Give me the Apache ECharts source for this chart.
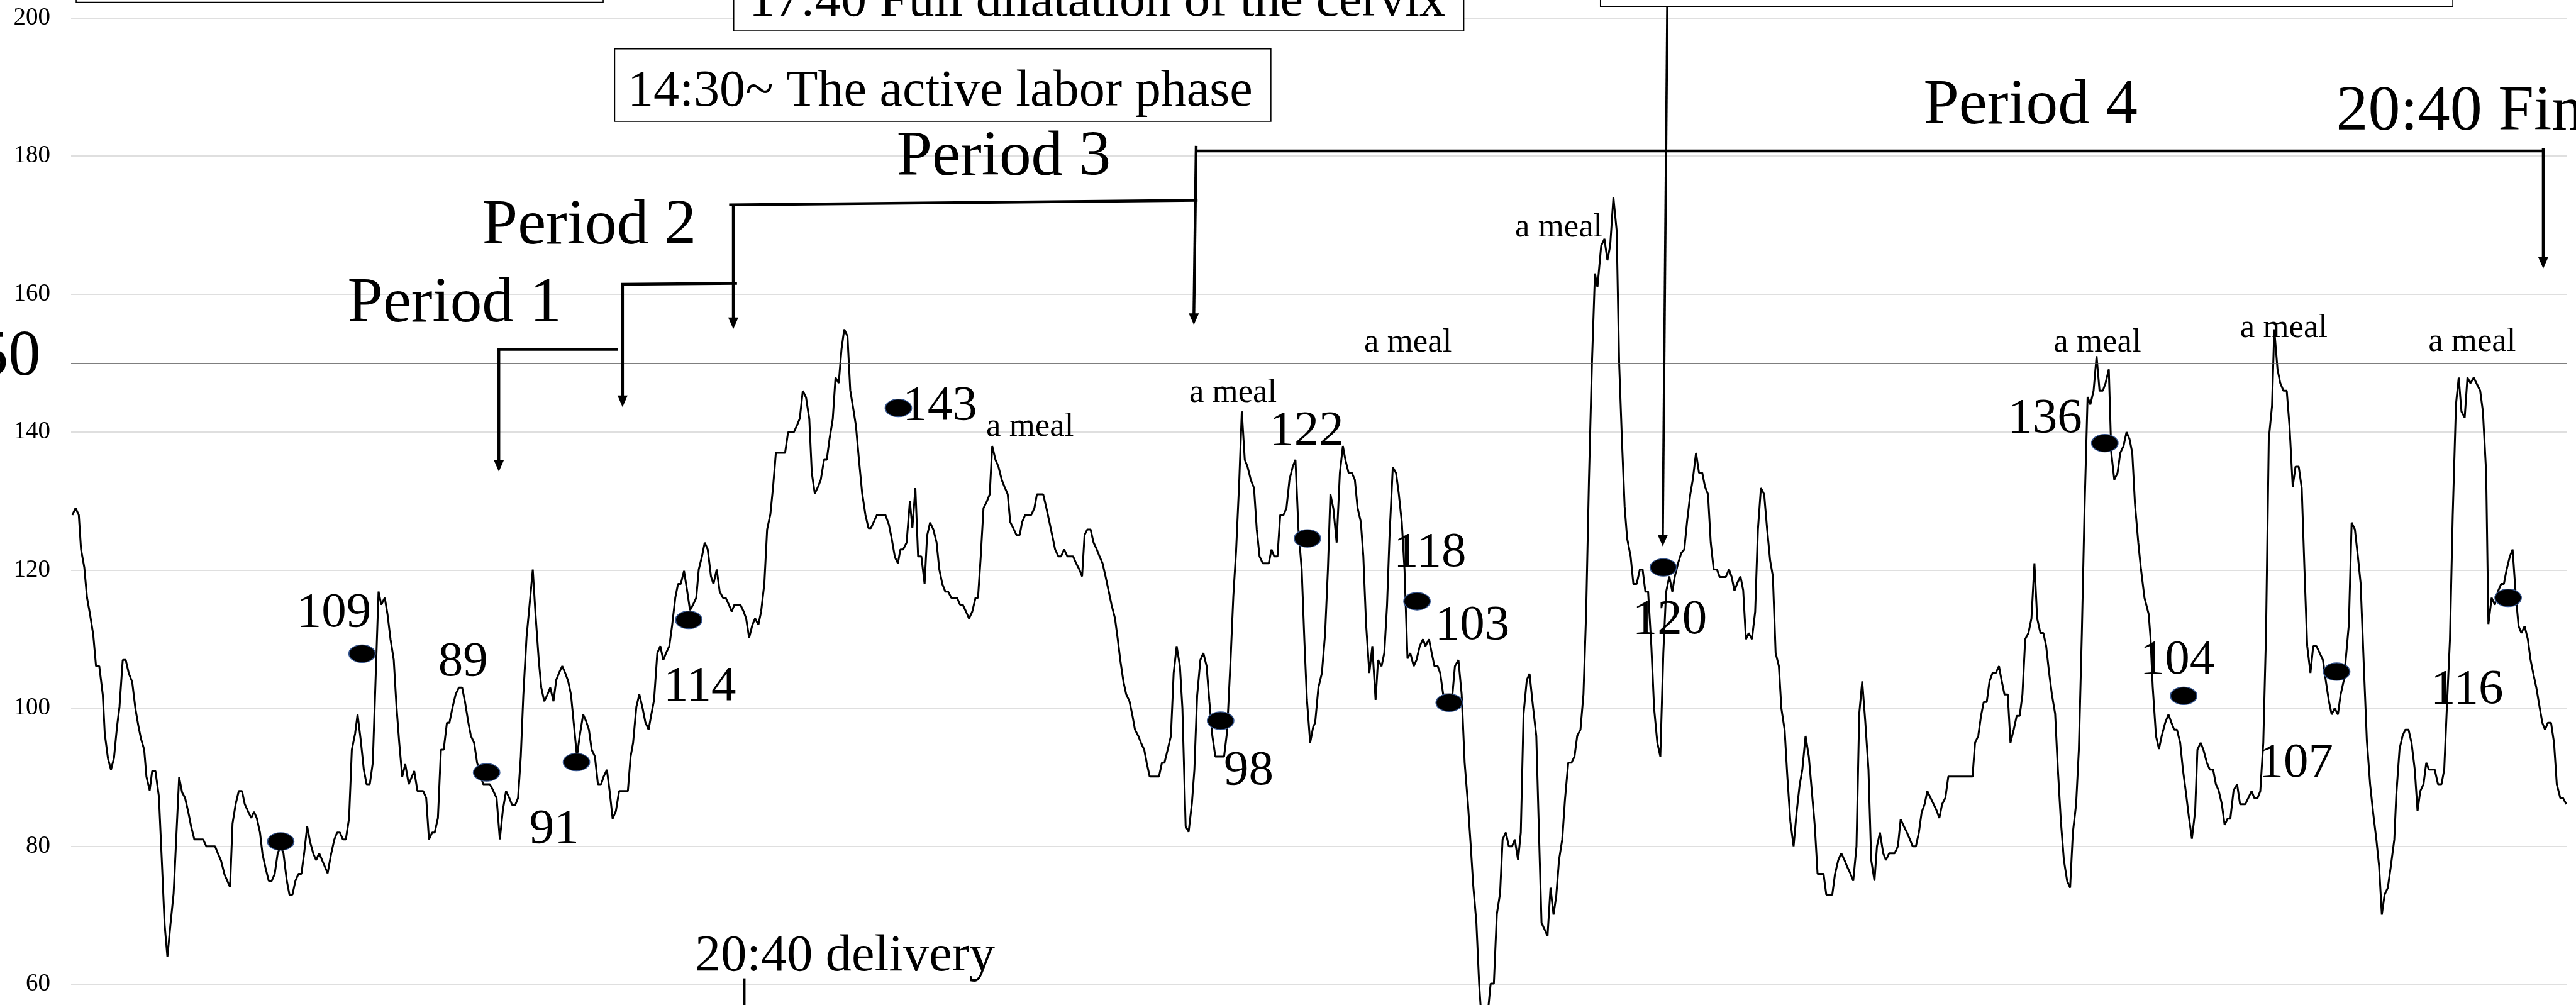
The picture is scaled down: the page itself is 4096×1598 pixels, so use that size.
<!DOCTYPE html>
<html><head><meta charset="utf-8">
<script src="https://cdn.jsdelivr.net/npm/echarts@6/dist/echarts.min.js"></script>
<style>html,body{margin:0;padding:0;background:#fff;overflow:hidden}#c{width:4096px;height:1598px}</style>
</head><body><div id="c"></div>
<script>
// relative time (0..1000 across the record) , heart rate (bpm)
const heartRate = [
[0.5,128.0],[1.8,129.0],[3.1,128.0],[4.0,123.0],[5.3,120.4],[6.4,116.0],[7.6,113.6],[8.9,110.6],[10.0,106.1],[11.3,106.1],[12.7,102.0],[13.5,96.3],[14.8,92.7],[16.0,91.1],[17.2,92.8],[18.4,97.3],[19.4,100.2],[20.7,107.0],[21.9,107.0],[23.1,105.1],[24.5,103.8],[25.8,99.9],[26.9,97.6],[28.0,95.6],[29.3,94.0],[30.2,90.1],[31.5,88.1],[32.5,90.9],[33.8,90.9],[35.2,87.2],[36.3,78.4],[37.5,68.6],[38.6,64.0],[39.8,68.6],[41.1,73.2],[42.2,81.6],[43.3,90.0],[44.5,87.8],[45.7,87.0],[47.0,84.9],[48.1,82.9],[49.4,81.0],[52.9,81.0],[54.2,80.0],[57.7,80.0],[58.8,79.0],[60.1,77.9],[61.5,75.9],[63.7,74.1],[64.7,83.3],[66.0,86.2],[67.2,88.0],[68.5,88.0],[69.6,86.1],[71.0,85.0],[72.2,84.1],[73.3,85.0],[74.4,84.1],[75.7,82.0],[76.7,78.9],[77.9,76.9],[79.2,75.0],[80.4,75.0],[81.6,76.0],[82.8,79.0],[84.0,80.0],[85.1,79.0],[86.4,75.1],[87.5,73.0],[88.7,73.0],[89.9,75.0],[91.1,76.0],[92.3,76.0],[93.4,79.0],[94.6,82.9],[95.8,80.6],[97.1,78.9],[98.2,78.0],[99.4,79.0],[100.7,77.9],[102.8,76.1],[104.2,78.9],[105.5,81.0],[106.6,82.0],[107.7,82.0],[108.9,81.0],[110.1,81.0],[111.4,84.1],[112.5,94.0],[113.8,96.3],[114.8,99.1],[116.0,95.6],[117.3,91.1],[118.4,89.0],[119.7,89.0],[120.9,92.1],[122.1,105.1],[123.2,116.9],[124.3,115.0],[125.7,116.0],[126.8,113.6],[128.0,110.0],[129.3,107.0],[130.4,100.2],[131.5,95.0],[132.7,90.1],[133.9,91.9],[135.3,89.0],[137.5,90.9],[138.8,88.0],[141.1,88.0],[142.3,87.0],[143.4,81.0],[144.7,82.0],[145.7,82.0],[147.0,84.1],[148.2,94.0],[149.3,94.0],[150.6,97.9],[151.6,97.9],[152.9,100.2],[154.1,102.0],[155.4,103.0],[156.7,103.0],[157.9,100.8],[159.2,97.9],[160.2,96.0],[161.5,95.0],[162.7,92.1],[165.1,89.0],[166.1,89.0],
[167.8,89.0],[169.1,88.1],[170.5,87.0],[171.8,81.0],[173.0,85.2],[174.3,88.0],[175.6,87.0],[176.7,86.0],[178.0,86.0],[179.1,87.0],[180.2,93.0],[181.2,101.8],[182.5,110.3],[183.7,114.9],[185.0,120.1],[186.1,113.6],[187.4,107.0],[188.4,103.0],[189.6,101.0],[190.9,102.0],[192.0,103.0],[193.3,101.0],[194.4,104.1],[195.5,105.1],[196.8,106.1],[198.1,105.0],[199.2,103.9],[200.3,102.0],[201.4,97.9],[202.7,93.0],[203.8,96.0],[205.2,99.1],[206.5,98.0],[207.5,96.9],[208.6,94.0],[209.9,93.0],[211.1,89.0],[212.4,89.0],[213.4,90.1],[214.7,91.1],[215.8,88.0],[217.0,84.0],[218.3,85.1],[219.6,88.0],[223.1,88.0],[224.2,93.0],[225.2,95.0],[226.5,100.2],[227.7,102.0],[229.0,100.0],[230.1,98.0],[231.4,96.9],[232.4,98.9],[233.6,101.2],[234.9,108.0],[236.1,109.0],[237.3,107.0],[238.4,108.0],[239.7,109.0],[240.8,111.9],[242.1,116.0],[243.2,118.0],[244.3,118.0],[245.6,119.9],[246.9,116.9],[248.0,114.2],[249.2,115.0],[250.5,116.0],[251.5,120.1],[252.8,122.0],[253.9,124.0],[255.1,123.0],[256.4,119.1],[257.4,118.0],[258.7,120.1],[259.9,116.9],[261.2,116.0],[262.3,116.0],[263.6,115.0],[264.7,114.0],[265.8,115.0],[268.2,115.0],[269.5,114.0],[270.5,113.0],[271.7,110.2],[273.0,112.1],[274.1,113.0],[275.4,112.1],[276.5,114.0],[277.8,118.1],[278.9,125.9],[280.2,128.1],[281.3,132.1],[282.4,137.0],[286.1,137.0],[287.3,140.0],[289.6,140.0],[290.9,141.0],[292.0,142.0],[293.2,146.0],[294.5,145.0],[295.8,141.9],[296.8,134.1],[298.0,131.1],[299.3,132.1],[300.4,133.1],[301.7,136.0],[302.8,136.0],[303.9,139.0],[305.2,141.9],[306.3,147.9],[307.6,147.1],[308.7,152.0],[309.8,154.9],[311.1,153.9],[312.2,146.1],[313.5,143.2],[314.5,140.9],[315.7,136.0],[317.0,131.1],[318.3,128.0],[319.5,126.1],[320.5,126.1],[322.9,128.0],[326.3,128.0],[327.7,126.6],[328.8,124.6],[330.1,121.9],[331.3,121.0],[332.3,123.0],[333.4,123.0],
[334.8,124.0],[336.1,130.0],[337.1,126.1],[338.3,131.9],[339.4,122.0],[340.7,122.0],[342.0,118.0],[343.0,125.0],[344.2,126.9],[345.5,125.9],[346.8,124.0],[347.9,120.1],[349.1,118.0],[350.3,116.9],[351.4,116.9],[352.7,116.0],[355.0,116.0],[356.2,115.0],[357.3,115.0],[358.6,114.0],[359.8,113.0],[361.1,114.0],[362.4,116.0],[363.4,116.0],[364.5,122.0],[365.6,129.0],[367.0,130.0],[368.1,131.0],[369.1,138.0],[370.4,136.0],[371.6,135.0],[372.9,133.1],[374.0,132.1],[375.3,131.0],[376.3,127.0],[377.5,126.1],[378.8,125.1],[380.1,125.1],[381.1,127.0],[382.3,128.0],[384.7,128.0],[386.0,129.0],[387.0,131.0],[389.5,131.0],[390.8,129.0],[392.0,127.0],[393.1,125.1],[394.3,123.0],[395.6,122.0],[396.7,122.0],[397.9,123.0],[399.2,122.0],[401.5,122.0],[402.7,121.0],[404.0,120.1],[405.1,119.1],[406.1,125.1],[407.2,125.9],[408.5,125.9],[409.7,124.0],[411.0,123.0],[412.1,122.0],[413.3,121.0],[414.5,119.1],[415.8,116.9],[416.9,115.0],[418.3,113.0],[419.4,110.0],[420.4,107.0],[421.7,103.8],[422.8,102.0],[424.1,101.0],[425.3,98.9],[426.3,96.9],[427.6,96.0],[428.7,95.0],[430.0,94.0],[431.0,92.1],[432.2,90.1],[435.9,90.1],[437.1,92.1],[438.1,92.1],[439.4,94.0],[440.7,96.0],[441.8,105.1],[443.0,109.0],[444.3,106.1],[445.3,100.0],[446.6,82.9],[447.8,82.1],[449.1,86.2],[450.1,91.1],[451.2,101.8],[452.5,107.0],[453.7,108.0],[455.0,106.1],[456.1,101.0],[457.3,96.0],[458.5,93.0],[462.0,93.0],[463.2,96.6],[464.6,107.0],[465.7,116.2],[466.8,122.7],[468.1,133.1],[469.1,143.0],[470.3,136.0],[471.4,135.0],[472.7,133.1],[474.0,131.9],[475.1,125.9],[476.2,122.0],[477.5,121.0],[479.9,121.0],[481.0,123.0],[482.1,122.0],[483.4,122.0],[484.5,128.0],[485.8,128.0],[487.0,129.0],[488.2,133.1],[489.5,135.0],[490.6,136.0],[491.8,125.9],[493.1,120.1],[494.2,109.6],[495.2,101.2],[496.5,95.0],[497.7,97.3],
[498.5,97.9],[499.8,103.0],[501.2,105.1],[502.5,110.9],[503.6,120.1],[504.6,131.0],[505.8,128.9],[507.1,124.0],[508.4,134.1],[509.6,138.0],[510.6,136.0],[511.9,134.1],[513.2,134.1],[514.4,133.1],[515.5,129.0],[516.8,127.0],[517.8,122.0],[518.9,112.2],[520.2,105.1],[521.4,109.0],[522.7,101.2],[523.7,107.0],[525.1,106.1],[526.2,108.0],[527.3,114.9],[528.3,125.0],[529.6,134.9],[530.9,134.1],[532.0,131.1],[533.2,127.0],[534.3,120.1],[535.5,107.2],[536.6,108.0],[538.0,106.1],[539.1,107.0],[540.4,109.0],[541.7,110.0],[542.7,109.0],[544.1,110.0],[545.2,108.0],[546.3,106.1],[547.6,106.1],[548.6,105.1],[549.8,102.0],[553.5,102.0],[554.5,106.1],[555.9,107.0],[557.2,102.0],[558.4,92.1],[559.7,86.2],[560.8,80.3],[561.8,74.5],[563.1,68.9],[564.2,60.1],[565.3,54.0],[567.2,54.0],[568.8,60.1],[570.1,60.1],[571.3,70.2],[572.6,73.2],[573.6,81.0],[574.9,82.0],[576.1,80.0],[577.4,80.0],[578.5,81.0],[579.8,78.0],[580.9,82.0],[582.0,99.2],[583.3,104.1],[584.4,105.0],[585.7,100.5],[587.1,96.0],[588.1,82.9],[589.2,68.9],[590.5,67.9],[591.6,67.0],[592.8,74.0],[594.0,70.1],[595.1,72.8],[596.2,78.0],[597.5,81.0],[598.6,86.8],[599.9,92.1],[601.2,92.1],[602.4,93.0],[603.5,96.0],[604.8,96.9],[606.0,102.0],[607.1,114.2],[608.2,133.1],[609.4,150.0],[610.6,163.0],[611.6,161.0],[613.1,167.0],[614.4,168.0],[615.6,164.9],[616.7,167.0],[618.0,174.0],[619.3,169.2],[620.3,150.0],[621.4,139.0],[622.5,129.2],[623.5,124.6],[624.9,122.0],[626.0,118.0],[627.3,118.0],[628.6,120.1],[629.7,120.1],[630.8,116.9],[631.9,116.9],[633.2,109.0],[634.3,100.0],[635.6,95.0],[636.8,93.0],[638.0,108.0],[639.1,116.8],[640.4,119.1],[641.6,116.9],[642.6,119.1],[643.9,121.0],[645.2,122.5],[646.4,123.0],[647.5,127.0],[648.8,131.0],[649.8,133.1],[651.1,137.0],[652.3,134.1],[653.6,134.1],[654.7,132.1],[655.9,131.0],[657.0,124.0],[658.2,120.1],[659.5,120.1],[660.6,119.0],[663.0,119.0],[664.3,120.1],[665.4,119.0],
[666.5,117.0],[667.6,118.1],[668.9,119.1],[670.0,117.1],[671.1,110.0],[672.2,110.9],[673.5,110.0],[674.8,114.0],[675.9,125.9],[677.1,131.9],[678.4,131.0],[679.6,125.9],[680.8,121.4],[681.9,119.1],[683.0,108.0],[684.3,106.1],[685.3,100.0],[686.6,96.9],[687.7,90.1],[688.9,83.6],[690.2,80.0],[691.4,84.9],[692.6,88.8],[693.7,91.1],[695.0,96.0],[696.3,93.0],[697.5,88.0],[698.7,82.9],[699.8,76.0],[702.2,76.0],[703.3,73.0],[705.7,73.0],[706.8,76.0],[708.1,78.0],[709.3,79.0],[710.6,78.0],[711.6,77.1],[712.9,76.1],[714.1,75.0],[715.4,80.0],[716.5,99.2],[717.7,103.9],[718.9,98.2],[720.2,91.1],[721.3,78.0],[722.6,75.0],[723.6,80.0],[724.8,82.0],[726.1,79.0],[727.2,78.0],[728.5,79.0],[730.7,79.0],[732.0,80.0],[733.1,83.9],[734.4,82.9],[735.6,82.0],[736.8,81.0],[737.9,80.0],[739.2,80.0],[740.4,82.0],[741.5,84.9],[742.7,86.1],[743.8,88.0],[745.1,87.0],[746.3,86.1],[747.6,85.1],[748.6,84.1],[749.7,86.1],[751.0,87.0],[752.2,90.1],[761.9,90.1],[762.9,95.0],[764.2,96.0],[765.3,98.9],[766.4,100.9],[767.6,100.9],[768.7,103.9],[769.9,105.1],[771.2,105.1],[772.5,106.1],[773.5,104.1],[774.7,102.0],[776.0,102.0],[777.1,95.0],[778.4,96.9],[779.6,98.9],[780.8,98.9],[781.9,102.0],[783.0,110.0],[784.3,110.9],[785.5,113.0],[786.7,121.0],[787.8,113.0],[789.1,110.9],[790.3,110.9],[791.4,109.0],[792.6,105.1],[793.7,102.0],[795.0,99.2],[796.1,91.1],[797.3,83.6],[798.5,78.0],[799.8,75.0],[801.0,74.0],[802.1,82.0],[803.4,86.1],[804.5,94.0],[805.7,110.9],[806.8,129.2],[808.0,145.1],[809.1,144.0],[810.4,146.0],[811.6,151.0],[812.8,146.0],[814.1,146.0],[815.2,147.1],[816.5,149.1],[817.5,137.0],[818.7,133.1],[820.0,134.1],[821.1,137.0],[822.4,138.0],[823.6,140.0],[824.8,139.0],[825.9,137.0],[827.0,129.5],[828.3,124.0],[829.4,120.1],[830.8,116.0],
[832.5,113.6],[833.2,110.3],[834.1,103.1],[835.4,96.0],[836.6,94.1],[837.7,96.0],[839.1,97.9],[840.4,99.1],[841.5,98.0],[842.7,96.9],[843.8,96.9],[845.1,95.0],[846.2,91.1],[847.5,87.5],[848.6,84.2],[849.8,81.1],[851.1,85.1],[852.0,94.0],[853.3,95.0],[854.4,94.0],[855.8,92.1],[857.0,91.1],[858.3,91.1],[859.4,89.0],[860.5,88.1],[861.8,86.1],[862.9,83.1],[864.1,84.0],[865.2,84.0],[866.5,88.1],[867.9,89.0],[869.1,86.1],[871.2,86.1],[872.4,87.0],[873.7,88.0],[874.8,87.0],[876.1,87.0],[877.2,88.0],[878.4,95.0],[879.5,110.9],[880.6,139.0],[881.9,143.8],[882.8,154.9],[884.1,149.1],[885.2,147.1],[886.5,146.0],[887.8,146.0],[888.9,140.9],[890.2,132.1],[891.3,135.0],[892.6,135.0],[893.8,131.9],[894.9,120.1],[896.0,109.0],[897.3,105.1],[898.4,109.0],[899.7,109.0],[901.0,108.0],[902.3,107.0],[903.4,104.1],[904.7,101.0],[905.8,99.1],[907.0,100.0],[908.3,99.1],[909.4,102.0],[910.7,104.1],[912.7,112.2],[913.8,126.9],[915.1,125.9],[916.3,122.0],[917.4,118.1],[918.8,105.1],[919.9,95.3],[921.2,89.0],[922.4,84.9],[923.7,81.0],[924.8,77.1],[925.9,70.1],[927.0,73.0],[928.3,74.0],[929.5,77.1],[930.9,81.0],[931.7,87.5],[933.0,94.1],[934.2,96.0],[935.3,96.9],[936.6,96.9],[937.8,95.0],[939.1,91.1],[940.2,85.1],[941.3,88.0],[942.6,89.0],[943.7,92.1],[944.8,91.1],[947.1,91.1],[948.4,89.0],[949.8,89.0],[950.9,91.1],[952.0,100.5],[953.2,110.0],[954.3,127.9],[955.6,144.0],[956.7,147.9],[957.8,143.0],[959.1,142.1],[960.2,147.9],[961.4,147.1],[962.7,147.9],[963.8,147.1],[965.3,146.0],[966.4,143.0],[967.7,134.1],[968.6,112.2],[969.9,116.0],[971.2,115.0],[972.4,116.9],[973.7,118.0],[974.8,118.0],[975.9,120.1],[977.2,122.0],[978.3,123.0],[979.6,116.2],[980.7,111.9],[981.8,110.9],[983.1,111.9],[984.4,110.0],[985.5,107.0],[986.6,105.0],[987.8,103.0],[989.1,100.2],[990.2,97.9],[991.3,96.9],[992.4,97.9],[993.7,97.9],[994.9,95.0],[996.0,89.0],[997.4,87.0],[998.5,87.0],[999.8,86.1]
];
const markerTime   = [84.0, 116.6, 166.5, 202.5, 247.5, 331.5, 460.6, 495.4, 539.3, 552.2, 638.0, 814.9, 846.5, 907.8, 976.5];
const markerRate   = [80.7, 107.9, 90.7, 92.2, 112.8, 143.5, 98.2, 124.6, 115.5, 100.8, 120.4, 138.4, 101.8, 105.3, 116.0];
const markerLabels = ['', '109', '89', '91', '114', '143', '98', '122', '118', '103', '120', '136', '104', '107', '116'];
const yTicks = [60, 80, 100, 120, 140, 160, 180, 200];
const referenceLine = 150;
const periodLabels = ['Period 1', 'Period 2', 'Period 3', 'Period 4'];
const eventLabels = ['14:30~ The active labor phase', '17:40 Full dilatation of the cervix', '20:40 delivery', '20:40 Finish'];
const mealLabel = 'a meal';

// ---------- layout (reference-pixel based, scaled to window) ----------
const S = 4096 / 5582;
const FONT = 'Liberation Serif, Times New Roman, serif';
const TEXT_DY = 10; // baseline correction (reference px)
// label offsets for marker values (reference px)
const labelOffsets = [[0,0],[-61,-88],[-51,-239],[-48,146],[24,145],[90,-3],[61,110],[-2,-232],[28,-104],[50,-166],[14,114],[-130,-53],[-14,-76],[-88,200],[-89,200]];

function txt(text, x, y, size, align) {
  return { type: 'text', z: 100, x: x * S, y: (y + TEXT_DY) * S,
    style: { text: text, font: (size * S).toFixed(1) + 'px ' + FONT, fill: '#000', textFill: '#000',
      align: align || 'left', textAlign: align || 'left', verticalAlign: 'middle', textVerticalAlign: 'middle' } };
}
function box(x, y, w, h) {
  return { type: 'rect', z: 90, shape: { x: x * S, y: y * S, width: w * S, height: h * S },
    style: { fill: '#fff', stroke: '#000', lineWidth: 1.6 } };
}
function pline(pts, w) {
  return { type: 'polyline', z: 95, shape: { points: pts.map(p => [p[0] * S, p[1] * S]) },
    style: { stroke: '#000', lineWidth: (w || 6) * S, fill: null, lineCap: 'butt', lineJoin: 'miter' } };
}
function arrow(x, y) {
  return { type: 'polygon', z: 96, shape: { points: [[x * S, y * S], [(x - 11) * S, (y - 25) * S], [(x + 11) * S, (y - 25) * S]] },
    style: { fill: '#000' } };
}

const graphics = [
  box(165, -200, 1142, 205),
  box(1590, -90, 1582, 157),
  box(1332, 106, 1422, 157),
  box(3468, -200, 1847, 214),
  txt(eventLabels[1], 1623, -5, 112),
  txt(eventLabels[0], 1360, 189, 112),
  txt(periodLabels[0], 753, 650, 138),
  txt(periodLabels[1], 1045, 481, 138),
  txt(periodLabels[2], 1943, 333, 138),
  txt(periodLabels[3], 4168, 221, 138),
  txt(eventLabels[3], 5062, 234, 139),
  txt(eventLabels[2], 1506, 2064, 112),
  txt(String(referenceLine), 88, 766, 140, 'right'),
  txt(mealLabel, 2137, 916, 72), txt(mealLabel, 2577, 842, 72), txt(mealLabel, 2956, 733, 72),
  txt(mealLabel, 3283, 484, 72), txt(mealLabel, 4450, 733, 72), txt(mealLabel, 4854, 702, 72),
  txt(mealLabel, 5262, 731, 72),
  pline([[1081, 1000], [1081, 757], [1339, 757]]), arrow(1081, 1022),
  pline([[1349, 860], [1349, 616], [1597, 614]]), arrow(1349, 882),
  pline([[1589, 444], [1589, 690]]), arrow(1589, 713),
  pline([[1580, 444], [2595, 434]]),
  pline([[2592, 316], [2587, 682]]), arrow(2587, 704),
  pline([[2590, 327], [5513, 327]]),
  pline([[5511, 321], [5511, 560]]), arrow(5511, 582),
  pline([[3613, 14], [3603, 1162]], 5), arrow(3603, 1184),
  pline([[1613, 2120], [1613, 2200]], 5)
];

const chart = echarts.init(document.getElementById('c'), null, { renderer: 'canvas' });
chart.setOption({
  animation: false,
  backgroundColor: '#fff',
  grid: { left: 154 * S, right: 20 * S, top: 39 * S, bottom: 1598 - 2133 * S, containLabel: false },
  xAxis: { type: 'value', min: 0, max: 1000, show: false },
  yAxis: {
    type: 'value', min: yTicks[0], max: yTicks[yTicks.length - 1], interval: 20,
    axisLine: { show: false }, axisTick: { show: false },
    axisLabel: { fontFamily: FONT, fontSize: 39, color: '#000', margin: 33 },
    splitLine: { lineStyle: { color: '#d4d4d4', width: 1.6 } }
  },
  series: [
    {
      type: 'line', data: heartRate, showSymbol: false, clip: false, z: 3,
      lineStyle: { color: '#000', width: 3 },
      markLine: {
        silent: true, symbol: 'none', label: { show: false },
        lineStyle: { color: '#555', width: 1.6, type: 'solid' },
        data: [{ yAxis: referenceLine }]
      }
    },
    {
      type: 'scatter', z: 5, symbol: 'circle', symbolSize: [42, 28],
      itemStyle: { color: '#000', borderColor: '#35558f', borderWidth: 1.5, opacity: 1 },
      label: { show: true, position: 'inside', fontFamily: FONT, fontSize: 79, color: '#000' },
      data: markerTime.map((t, i) => ({
        value: [t, markerRate[i]],
        label: { show: markerLabels[i] !== '', formatter: markerLabels[i],
          offset: [labelOffsets[i][0] * S, labelOffsets[i][1] * S] }
      }))
    }
  ],
  graphic: { elements: graphics }
});
</script>
</body></html>
